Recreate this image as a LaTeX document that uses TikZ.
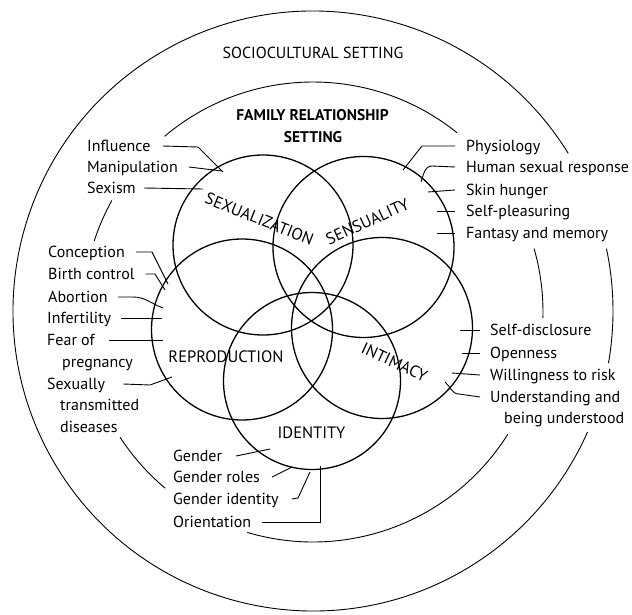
\documentclass[tikz,border=0pt]{standalone}
\usepackage{fontspec}
\newfontfamily\labfont{PT Sans}
\tikzset{
  ring/.style={line width=0.9pt},
  venn/.style={line width=1.3pt},
  lead/.style={line width=0.9pt},
  lbl/.style={font=\labfont\fontsize{16}{19}\selectfont, inner sep=0pt, text height=11pt, text depth=0pt, anchor=west},
  head/.style={font=\labfont\fontsize{16}{19}\selectfont, inner sep=0pt},
  famhead/.style={font=\labfont\bfseries\fontsize{15.5}{18}\selectfont, inner sep=0pt},
  area/.style={font=\labfont\fontsize{16.5}{19}\selectfont, inner sep=0pt},
}
\begin{document}
\begin{tikzpicture}[x=1pt,y=-1pt]
\useasboundingbox (0,0) rectangle (632,615);
\fill[white] (0,0) rectangle (632,615);

% sociocultural ring
\draw[ring] (313,311) ++(31.7:300pt) arc[start angle=31.7, end angle=336.2, radius=300pt];
\draw[ring] (313,311) ++(-10:300pt) arc[start angle=-10, end angle=12, radius=300pt];

% family ring
\draw[ring] (313,312) ++(51.2:230pt) arc[start angle=51.2, end angle=130.2, radius=230pt];
\draw[ring] (313,312) ++(151:230pt) arc[start angle=151, end angle=162, radius=230pt];
\draw[ring] (313,312) ++(213:230pt) arc[start angle=213, end angle=230, radius=230pt];
\draw[ring] (313,312) ++(253.4:230pt) arc[start angle=253.4, end angle=327.9, radius=230pt];
\draw[ring] (313,312) ++(-1.5:230pt) arc[start angle=-1.5, end angle=16, radius=230pt];

% five circles
\draw[venn] (263,245) circle[radius=90pt];
\draw[venn] (363.5,247) circle[radius=90.5pt];
\draw[venn] (242,329.5) circle[radius=90.5pt];
\draw[venn] (382,328) circle[radius=90.5pt];
\draw[venn] (312,381) circle[radius=88.5pt];

% headings
\node[head] (socio) at (313,53) {SOCIOCULTURAL SETTING};
\node[famhead] (fam1) at (312.5,115) {FAMILY RELATIONSHIP};
\node[famhead] (fam2) at (313,137) {SETTING};

% area labels
\node[area, rotate=-22] (sexz) at (259.5,219) {SEXUALIZATION};
\node[area, rotate=24.5] (sens) at (367.5,221.5) {SENSUALITY};
\node[area] (repro) at (226,357) {REPRODUCTION};
\node[area, rotate=-25] (intim) at (394.5,362) {INTIMACY};
\node[area] (ident) at (311.5,433) {IDENTITY};

% left top labels
\node[lbl] (infl) at (87,146) {Influence};
\node[lbl] (manip) at (87,167) {Manipulation};
\node[lbl] (sexism) at (87,188) {Sexism};
\coordinate (infl-e) at (223,172);
\coordinate (manip-e) at (222,171);
\coordinate (sexism-e) at (203,189);
\draw[lead] ([xshift=12pt]infl.east) -- (198,147) -- (infl-e);
\draw[lead] ([xshift=11pt]manip.east) -- (manip-e);
\draw[lead] ([xshift=8pt]sexism.east) -- (sexism-e);

% left middle labels
\node[lbl] (concep) at (48,252) {Conception};
\node[lbl] (birth) at (48,274) {Birth control};
\node[lbl] (abort) at (48,297) {Abortion};
\node[lbl] (infert) at (47,318) {Infertility};
\node[lbl] (fear) at (47,340) {Fear of};
\node[lbl] (preg) at (62,362) {pregnancy};
\node[lbl] (sexu) at (47,384) {Sexually};
\node[lbl] (trans) at (60,405) {transmitted};
\node[lbl] (dis) at (60,427) {diseases};
\coordinate (concep-e) at (168,284);
\coordinate (birth-e) at (165,290);
\coordinate (abort-e) at (163,308);
\coordinate (infert-e) at (162,318);
\coordinate (fear-e) at (163,340);
\coordinate (sexu-e) at (172,377);
\draw[lead] ([xshift=11pt]concep.east) -- (152,252) -- (concep-e);
\draw[lead] ([xshift=11pt]birth.east) -- (155,274) -- (birth-e);
\draw[lead] ([xshift=10pt]abort.east) -- (133,297) to[out=0, in=160] (abort-e);
\draw[lead] ([xshift=10pt]infert.east) -- (infert-e);
\draw[lead] ([xshift=14pt]fear.east) -- (fear-e);
\draw[lead] ([xshift=18pt]sexu.east) -- (150,385) -- (sexu-e);

% right top labels
\node[lbl] (phys) at (466,146) {Physiology};
\node[lbl] (human) at (466,167) {Human sexual response};
\node[lbl] (skin) at (466,190) {Skin hunger};
\node[lbl] (selfp) at (466,211) {Self-pleasuring};
\node[lbl] (fant) at (466,233) {Fantasy and memory};
\coordinate (phys-e) at (403,170);
\coordinate (human-e) at (421,182);
\coordinate (skin-e) at (428,192);
\coordinate (selfp-e) at (437,211);
\coordinate (fant-e) at (437,233);
\draw[lead] ([xshift=-11pt]phys.west) -- (422,146) -- (phys-e);
\draw[lead] ([xshift=-11pt]human.west) -- (432,166) to[out=180, in=70] (human-e);
\draw[lead] ([xshift=-11pt]skin.west) -- (skin-e);
\draw[lead] ([xshift=-11pt]selfp.west) -- (selfp-e);
\draw[lead] ([xshift=-11pt]fant.west) -- (fant-e);

% right middle labels
\node[lbl] (sdisc) at (490,330) {Self-disclosure};
\node[lbl] (open) at (490,353) {Openness};
\node[lbl] (will) at (490,375) {Willingness to risk};
\node[lbl] (under) at (490,397) {Understanding and};
\node[lbl] (being) at (504,418) {being understood};
\coordinate (sdisc-e) at (460,330);
\coordinate (open-e) at (462,353);
\coordinate (will-e) at (452,373);
\coordinate (under-e) at (445,382);
\draw[lead] ([xshift=-10pt]sdisc.west) -- (sdisc-e);
\draw[lead] ([xshift=-10pt]open.west) -- (open-e);
\draw[lead] ([xshift=-10pt]will.west) -- (will-e);
\draw[lead] ([xshift=-10pt]under.west) -- (459,394) to[out=180, in=-40] (under-e);

% bottom labels
\node[lbl] (gender) at (173,456) {Gender};
\node[lbl] (groles) at (173,477) {Gender roles};
\node[lbl] (gident) at (173,499) {Gender identity};
\node[lbl] (orient) at (173,522) {Orientation};
\coordinate (gender-e) at (270,449);
\coordinate (groles-e) at (292,467);
\coordinate (gident-e) at (310,472);
\coordinate (orient-e) at (320,466);
\draw[lead] ([xshift=14pt]gender.east) -- (gender-e);
\draw[lead] ([xshift=12pt]groles.east) -- (groles-e);
\draw[lead] ([xshift=13pt]gident.east) -- (298,498) -- (gident-e);
\draw[lead] ([xshift=11pt]orient.east) -- (320,522) -- (orient-e);
\end{tikzpicture}
\end{document}
